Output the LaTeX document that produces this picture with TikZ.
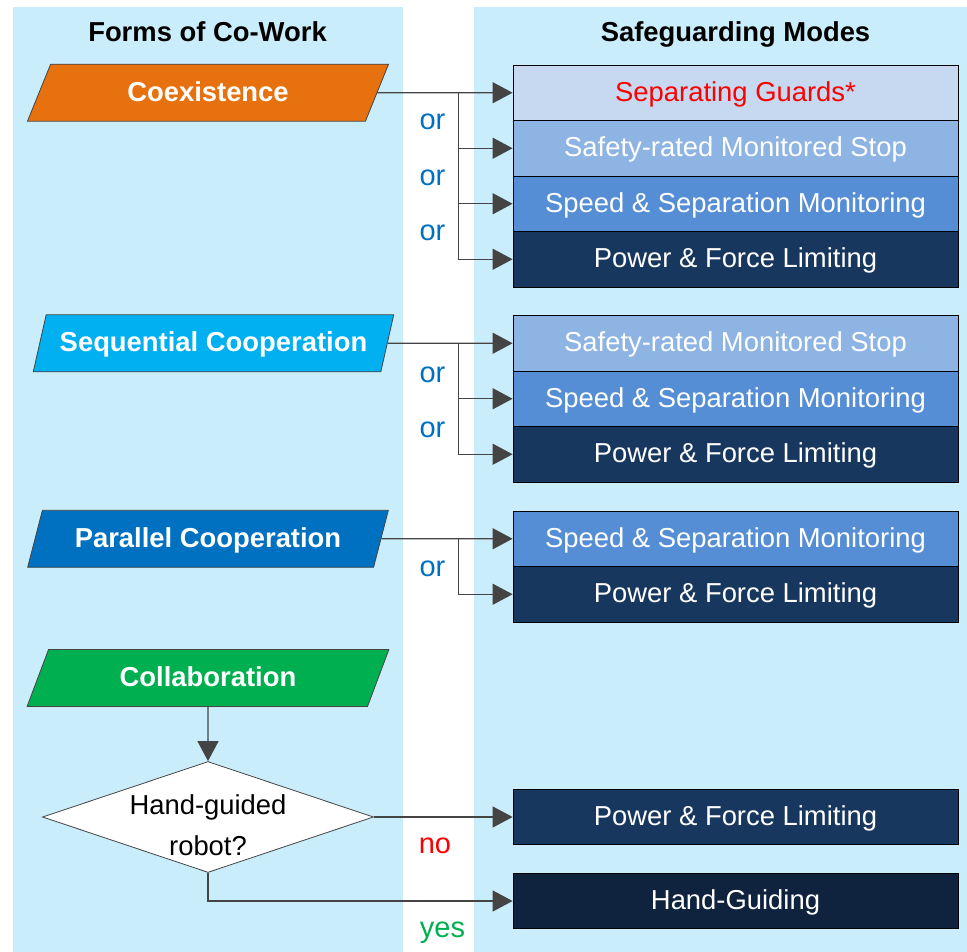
\documentclass[tikz,border=0pt]{standalone}
\usepackage{fontspec}
\setmainfont{Liberation Sans}
\usetikzlibrary{shapes.geometric,arrows.meta}

\definecolor{panelbg}{HTML}{C9EDFA}
\definecolor{linegrey}{HTML}{444444}
\definecolor{coexorange}{HTML}{E8710F}
\definecolor{seqblue}{HTML}{00B0F0}
\definecolor{parblue}{HTML}{0070C0}
\definecolor{collgreen}{HTML}{00B050}
\definecolor{sgfill}{HTML}{C6D9F1}
\definecolor{srmsfill}{HTML}{8EB4E3}
\definecolor{ssmfill}{HTML}{558ED5}
\definecolor{pflfill}{HTML}{17375E}
\definecolor{hgfill}{HTML}{10233E}
\definecolor{orblue}{HTML}{0070C0}
\definecolor{noRed}{HTML}{FF0000}
\definecolor{yesGreen}{HTML}{00B050}

\begin{document}
\begin{tikzpicture}[x=1pt,y=-1pt,
  txt/.style={font=\fontsize{27.4}{32}\selectfont},
  titletxt/.style={font=\fontsize{27.4}{32}\selectfont\bfseries, anchor=base},
  cowork/.style={trapezium, trapezium left angle=64.6, trapezium right angle=115.4,
    trapezium stretches=true, minimum width=362pt, minimum height=57pt, inner sep=0pt,
    draw=linegrey, line width=0.8pt, text=white,
    font=\fontsize{27.4}{32}\selectfont\bfseries, text height=21pt, text depth=4pt},
  mode/.style={rectangle, draw=black, line width=0.8pt, minimum width=445pt,
    minimum height=55.5pt, inner sep=0pt, text=white, txt, text height=21pt, text depth=4pt},
  decision/.style={diamond, draw=linegrey, line width=0.8pt, fill=white,
    minimum width=331pt, minimum height=111pt, inner sep=0pt, txt},
  flow/.style={draw=linegrey, line width=1.3pt, -{Triangle[length=20pt,width=21pt]}},
  choice/.style={font=\fontsize{29}{34}\selectfont, anchor=base},
]
\useasboundingbox (0,0) rectangle (967,952);

% column backgrounds
\fill[panelbg] (13,7) rectangle (403,952);
\fill[panelbg] (474,7) rectangle (967,952);

% column headings
\node[titletxt] (formshead) at (207.5,42) {Forms of Co-Work};
\node[titletxt] (modeshead) at (735.5,42) {Safeguarding Modes};

% forms of co-work
\node[cowork, fill=coexorange] (coex) at (208,92.75) {Coexistence};
\node[cowork, fill=seqblue] (seq) at (213.5,343.25) {Sequential Cooperation};
\node[cowork, fill=parblue] (par) at (208,538.75) {Parallel Cooperation};
\node[cowork, fill=collgreen] (coll) at (208,678) {Collaboration};

% safeguarding modes for coexistence
\node[mode, fill=sgfill, text=noRed] (sg) at (735.5,92.75) {Separating Guards*};
\node[mode, fill=srmsfill] (srmsA) at (735.5,148.25) {Safety-rated Monitored Stop};
\node[mode, fill=ssmfill] (ssmA) at (735.5,203.75) {Speed \& Separation Monitoring};
\node[mode, fill=pflfill] (pflA) at (735.5,259.25) {Power \& Force Limiting};

% safeguarding modes for sequential cooperation
\node[mode, fill=srmsfill] (srmsB) at (735.5,343.25) {Safety-rated Monitored Stop};
\node[mode, fill=ssmfill] (ssmB) at (735.5,398.75) {Speed \& Separation Monitoring};
\node[mode, fill=pflfill] (pflB) at (735.5,454.25) {Power \& Force Limiting};

% safeguarding modes for parallel cooperation
\node[mode, fill=ssmfill] (ssmC) at (735.5,538.75) {Speed \& Separation Monitoring};
\node[mode, fill=pflfill] (pflC) at (735.5,594.25) {Power \& Force Limiting};

% collaboration
\node[decision] (guided) at (208,817) {\raisebox{-16pt}[0pt][0pt]{\makebox[0pt]{\renewcommand\arraystretch{1.28}\begin{tabular}{@{}c@{}}Hand-guided\\robot?\end{tabular}}}};
\node[mode, fill=pflfill] (pflD) at (735.5,817) {Power \& Force Limiting};
\node[mode, fill=hgfill] (hg) at (735.5,901) {Hand-Guiding};

% branch points
\coordinate (jA) at (458.5,92.75);
\coordinate (jB) at (458.5,343.25);
\coordinate (jC) at (458.5,538.75);

% connectors
\draw[flow] (coex.east) -- (sg.west);
\draw[flow] (jA) |- (srmsA.west);
\draw[flow] (jA) |- (ssmA.west);
\draw[flow] (jA) |- (pflA.west);

\draw[flow] (seq.east) -- (srmsB.west);
\draw[flow] (jB) |- (ssmB.west);
\draw[flow] (jB) |- (pflB.west);

\draw[flow] (par.east) -- (ssmC.west);
\draw[flow] (jC) |- (pflC.west);

\draw[flow] (coll.south) -- (guided.north);
\draw[flow] (guided.east) -- (pflD.west);
\draw[flow] (guided.south) |- (hg.west);

% alternatives
\node[choice, text=orblue] (orA1) at (432.5,130) {or};
\node[choice, text=orblue] (orA2) at (432.5,185.5) {or};
\node[choice, text=orblue] (orA3) at (432.5,241) {or};
\node[choice, text=orblue] (orB1) at (432.5,382) {or};
\node[choice, text=orblue] (orB2) at (432.5,437) {or};
\node[choice, text=orblue] (orC1) at (432.5,576) {or};
\node[choice, text=noRed] (nolabel) at (435,853) {no};
\node[choice, text=yesGreen] (yeslabel) at (442.5,937) {yes};
\end{tikzpicture}
\end{document}
